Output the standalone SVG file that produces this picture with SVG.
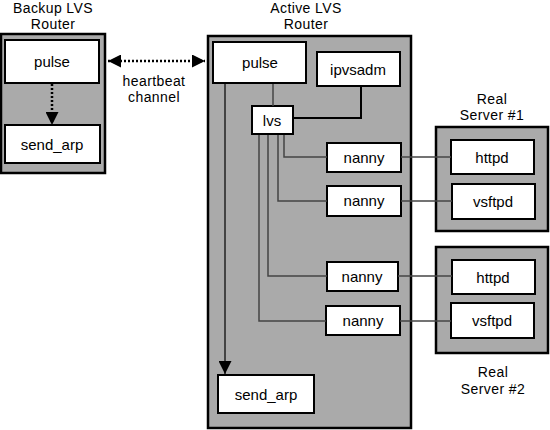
<svg xmlns="http://www.w3.org/2000/svg" width="550" height="430" viewBox="0 0 550 430">
<defs>
<style>
.cont{fill:#aaaaaa;stroke:#000;stroke-width:2.5}
.box{fill:#fff;stroke:#000;stroke-width:2}
.t{font-family:"Liberation Sans",Arial,sans-serif;font-size:15px;fill:#000;text-anchor:middle}
.h{font-size:14px;letter-spacing:0.4px}
.thin{fill:none;stroke:#444;stroke-width:1.5}
.dot{fill:none;stroke:#000;stroke-width:2.5;stroke-dasharray:2 2}
</style>
<marker id="ah" viewBox="0 0 10 10" refX="10" refY="5" markerWidth="15" markerHeight="13" markerUnits="userSpaceOnUse" orient="auto-start-reverse">
<path d="M0,0 L10,5 L0,10 Z" fill="#000"/>
</marker>
</defs>
<rect width="550" height="430" fill="#fff"/>

<g id="backup-router">
<rect class="cont" x="1" y="34" width="104" height="139"/>
<text class="t h" x="53" y="13">Backup LVS</text>
<text class="t h" x="53" y="29">Router</text>
</g>
<g id="backup-pulse">
<rect class="box" x="5" y="40" width="94" height="43"/>
<text class="t" x="52" y="67">pulse</text>
</g>
<g id="backup-send_arp">
<rect class="box" x="5" y="125" width="95" height="38"/>
<text class="t" x="52" y="150">send_arp</text>
</g>

<g id="active-router">
<rect class="cont" x="208" y="36" width="203" height="392"/>
<text class="t h" x="306" y="13">Active LVS</text>
<text class="t h" x="306" y="29">Router</text>
</g>
<g id="active-pulse">
<rect class="box" x="213" y="42" width="93" height="41"/>
<text class="t" x="260" y="68">pulse</text>
</g>
<g id="ipvsadm">
<rect class="box" x="317" y="52" width="83" height="34"/>
<text class="t" x="358" y="75">ipvsadm</text>
</g>
<g id="lvs">
<rect class="box" x="252" y="106" width="41" height="28"/>
<text class="t" x="272" y="126">lvs</text>
</g>
<g id="nanny1">
<rect class="box" x="327" y="143" width="74" height="29"/>
<text class="t" x="364" y="163">nanny</text>
</g>
<g id="nanny2">
<rect class="box" x="327" y="186" width="74" height="30"/>
<text class="t" x="364" y="206">nanny</text>
</g>
<g id="nanny3">
<rect class="box" x="327" y="262" width="71" height="29"/>
<text class="t" x="362" y="282">nanny</text>
</g>
<g id="nanny4">
<rect class="box" x="326" y="306" width="74" height="29"/>
<text class="t" x="363" y="326">nanny</text>
</g>
<g id="active-send_arp">
<rect class="box" x="218" y="375" width="96" height="38"/>
<text class="t" x="266" y="400">send_arp</text>
</g>

<g id="real-server-1">
<rect class="cont" x="436" y="127" width="112" height="104"/>
<text class="t h" x="492" y="104">Real</text>
<text class="t h" x="492" y="120">Server #1</text>
</g>
<g id="httpd1">
<rect class="box" x="451" y="140" width="83" height="34"/>
<text class="t" x="492" y="163">httpd</text>
</g>
<g id="vsftpd1">
<rect class="box" x="452" y="184" width="83" height="35"/>
<text class="t" x="493" y="207">vsftpd</text>
</g>

<g id="real-server-2">
<rect class="cont" x="436" y="247" width="112" height="106"/>
<text class="t h" x="493" y="377">Real</text>
<text class="t h" x="493" y="394">Server #2</text>
</g>
<g id="httpd2">
<rect class="box" x="452" y="260" width="83" height="34"/>
<text class="t" x="493" y="283">httpd</text>
</g>
<g id="vsftpd2">
<rect class="box" x="451" y="303" width="83" height="35"/>
<text class="t" x="492" y="326">vsftpd</text>
</g>

<g id="connectors">
<line class="dot" x1="52" y1="84" x2="52" y2="125" marker-end="url(#ah)"/>
<line class="dot" x1="108" y1="61" x2="205" y2="61" marker-start="url(#ah)" marker-end="url(#ah)"/>
<text class="t h" x="154" y="86">heartbeat</text>
<text class="t h" x="154" y="102">channel</text>
<line class="thin" x1="273" y1="84" x2="273" y2="106"/>
<polyline fill="none" stroke="#000" stroke-width="2" points="361,86 361,118 294,118"/>
<line stroke="#444" stroke-width="2" x1="225" y1="84" x2="225" y2="374" marker-end="url(#ah)"/>
<polyline class="thin" points="284,135 284,157 327,157"/>
<polyline class="thin" points="278,135 278,201 327,201"/>
<polyline class="thin" points="268,135 268,276 327,276"/>
<polyline class="thin" points="259,135 259,321 326,321"/>
<line class="thin" x1="401" y1="157" x2="451" y2="157"/>
<line class="thin" x1="401" y1="201" x2="452" y2="201"/>
<line class="thin" x1="398" y1="276" x2="452" y2="276"/>
<line class="thin" x1="400" y1="321" x2="451" y2="321"/>
</g>
</svg>
